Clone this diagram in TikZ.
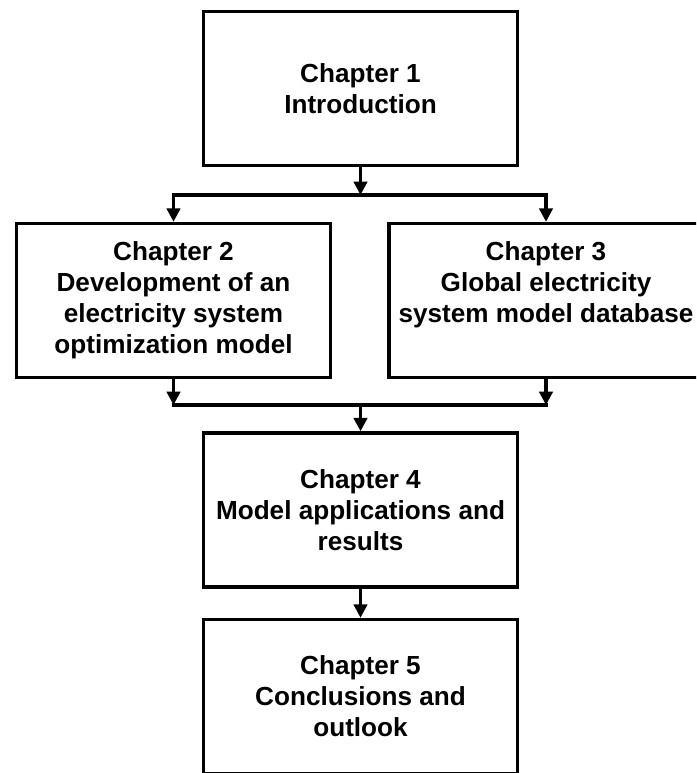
\documentclass[tikz,border=0pt]{standalone}
\usepackage{fontspec}
\setmainfont{Liberation Sans}
\usetikzlibrary{arrows.meta}
\begin{document}
\begin{tikzpicture}[x=0.75pt,y=-0.75pt,
  chapbox/.style={draw,line width=2.6pt,minimum width=235.5pt,minimum height=115.5pt,
    align=center,inner sep=0pt,font=\fontsize{19.6}{23.3}\selectfont\bfseries},
  bar/.style={line width=2.3pt,line cap=rect},
  link/.style={line width=2.3pt,-{Triangle[width=10pt,length=10pt]}}]
\useasboundingbox (0,0) rectangle (696,773);
\clip (0,0) rectangle (696,773);
\node[chapbox] (ch1) at (360.5,88.5) {Chapter 1\\Introduction};
\node[chapbox] (ch2) at (173.5,300.5) {Chapter 2\\Development of an\\electricity system\\optimization model};
\node[chapbox] (ch3) at (546,300.5) {Chapter 3\\Global electricity\\system model database\\\vphantom{p}};
\node[chapbox] (ch4) at (360.5,510) {Chapter 4\\Model applications and\\results};
\node[chapbox] (ch5) at (360.5,696.5) {Chapter 5\\Conclusions and\\outlook};
\coordinate (fork) at (360.5,195);
\coordinate (join) at (360.5,405);
% split towards chapters 2 and 3
\draw[link] (ch1) -- (fork);
\draw[bar] (ch2.north |- fork) -- (ch3.north |- fork);
\draw[link] (ch2.north |- fork) -- (ch2.north);
\draw[link] (ch3.north |- fork) -- (ch3.north);
% merge into chapter 4
\draw[link] (ch2.south) -- (ch2.south |- join);
\draw[link] (ch3.south) -- (ch3.south |- join);
\draw[bar] (ch2.south |- join) -- (ch3.south |- join);
\draw[link] (join) -- (ch4);
\draw[link] (ch4) -- (ch5);
\end{tikzpicture}
\end{document}
